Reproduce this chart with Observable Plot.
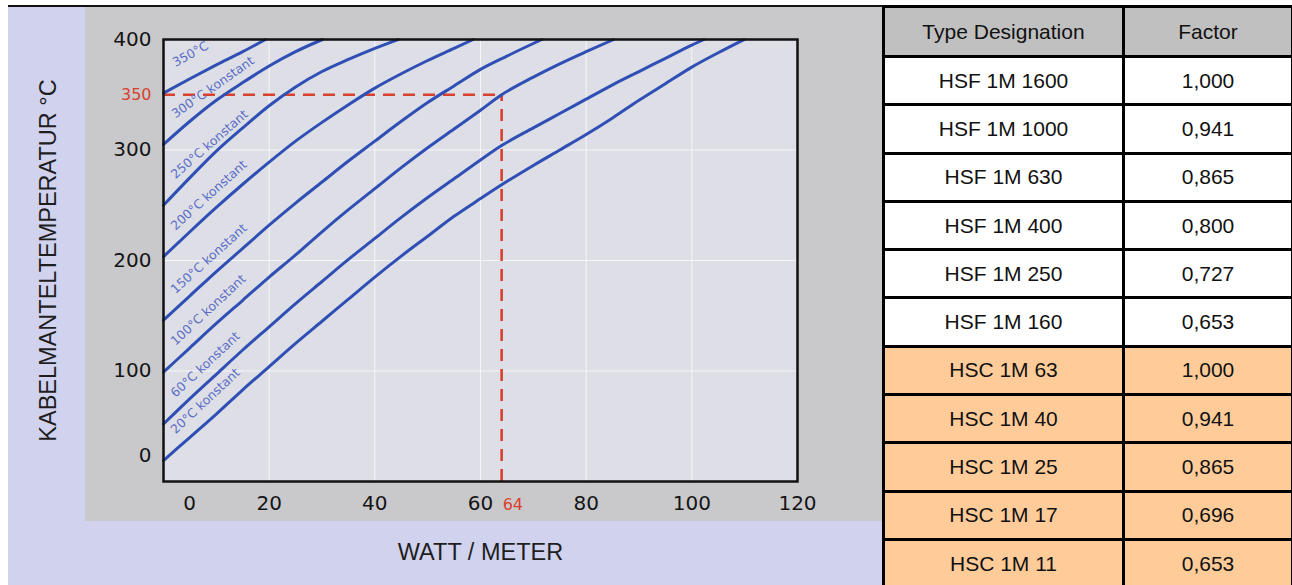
<!DOCTYPE html>
<html>
<head>
<meta charset="utf-8">
<script src="https://cdn.jsdelivr.net/npm/d3@7"></script>
<script src="https://cdn.jsdelivr.net/npm/@observablehq/plot@0.6"></script>
<style>
  html, body { margin: 0; padding: 0; background: #ffffff; }
  #page { position: relative; width: 1292px; height: 585px; overflow: hidden; background: #ffffff; }
  #lav { position: absolute; left: 8px; top: 6px; width: 874px; height: 579px; background: #d1d2ee; }
  #gray { position: absolute; left: 85px; top: 6px; width: 797px; height: 515px; background: #c9c9cc; }
  #topline { position: absolute; left: 8px; top: 5px; width: 876px; height: 2px; background: #111; }
  #chart { position: absolute; left: 0; top: 0; }
  #tablewrap { position: absolute; left: 882px; top: 5px; }
  table { border-collapse: collapse; table-layout: fixed; width: 409px;
          font-family: "Liberation Sans", Arial, sans-serif; font-size: 21px; color: #111; }
  td, th { border: 3px solid #000; text-align: center; vertical-align: middle; padding: 0; font-weight: normal; }
  th { background: #c0c0c0; height: 47px; }
  td { height: 45.3px; }
  tr.HSF td { background: #ffffff; }
  tr.HSC td { background: #ffcc99; }
</style>
</head>
<body>
<div id="page">
  <div id="lav"></div>
  <div id="gray"></div>
  <div id="topline"></div>
  <div id="chart"></div>
  <div id="tablewrap"></div>
</div>
<script>
// ---------- chart data ----------
const curveLabels = ["350°C", "300°C konstant", "250°C konstant", "200°C konstant",
                     "150°C konstant", "100°C konstant", "60°C konstant", "20°C konstant"];

const watt350 = [0, 5, 10, 15, 19.3];
const temp350 = [351.5, 364.5, 377, 389, 400];

const watt300 = [0, 5, 10, 15, 20, 25, 30.1];
const temp300 = [305, 326, 345, 361, 376, 389, 400];

const watt250 = [0, 5, 10, 15, 20, 25, 30, 35, 40, 44.4];
const temp250 = [250, 275, 299, 320, 340, 357, 371, 382, 392, 400];

const watt200 = [0, 5, 10, 15, 20, 25, 30, 35, 40, 45, 50, 55, 58.6];
const temp200 = [203.5, 226, 248, 269, 289, 308, 325, 341, 356, 369, 381, 392, 400];

const watt150 = [0, 5, 10, 15, 20, 25, 30, 35, 40, 45, 50, 55, 60, 65, 71.6];
const temp150 = [146, 168, 190, 211, 232, 252, 271, 290, 308, 326, 343, 358, 373, 385, 400];

const watt100 = [0, 5, 10, 15, 20, 25, 30, 35, 40, 45, 50, 55, 60, 64, 70, 75, 80, 85.2];
const temp100 = [99, 121, 143, 164, 185, 205, 226, 246, 265, 284, 302, 319, 336, 350, 366, 378, 389, 400];

const watt60 = [0, 5, 10, 15, 20, 25, 30, 35, 40, 45, 50, 55, 60, 64, 70, 75, 80, 85, 90, 95, 100, 102.3];
const temp60 = [52, 75, 97, 119, 140, 161, 181, 201, 220, 239, 257, 274, 291, 304, 320, 333, 346, 359, 371, 383, 395, 400];

const watt20 = [0, 5, 10, 15, 20, 25, 30, 35, 40, 45, 50, 55, 60, 64, 70, 75, 80, 85, 90, 95, 100, 105, 109.9];
const temp20 = [19, 40, 61, 83, 104, 125, 145, 165, 185, 204, 222, 240, 256, 268.5, 286, 300, 314, 329, 345, 360, 375, 388, 400];

const markerWatt = 64;
const markerTemp = 350;

const xTicks = [20, 40, 60, 80, 100, 120];
const yTicks = [100, 200, 300, 400];

// ---------- table data ----------
const tableHeader = ["Type Designation", "Factor"];
const tableTypes = ["HSF 1M 1600", "HSF 1M 1000", "HSF 1M 630", "HSF 1M 400", "HSF 1M 250", "HSF 1M 160",
                    "HSC 1M 63", "HSC 1M 40", "HSC 1M 25", "HSC 1M 17", "HSC 1M 11"];
const tableFactors = ["1,000", "0,941", "0,865", "0,800", "0,727", "0,653",
                      "1,000", "0,941", "0,865", "0,696", "0,653"];
const tableGroups = ["HSF", "HSF", "HSF", "HSF", "HSF", "HSF", "HSC", "HSC", "HSC", "HSC", "HSC"];

// ---------- build rows ----------
const wattSets = [watt350, watt300, watt250, watt200, watt150, watt100, watt60, watt20];
const tempSets = [temp350, temp300, temp250, temp200, temp150, temp100, temp60, temp20];
const rows = [];
curveLabels.forEach((label, i) => {
  wattSets[i].forEach((w, j) => rows.push({label, w, t: tempSets[i][j]}));
});
const labelRows = curveLabels.map((label, i) => ({label, w: wattSets[i][0], t: tempSets[i][0], i}));
const labelAngles = [-29, -35, -41, -42, -42, -43, -43, -43];

const blue = "#2f4fb5";
const red = "#d8412d";
const tickFont = "DejaVu Sans, sans-serif";
const titleFont = "Liberation Sans, Arial, sans-serif";

const chart = Plot.plot({
  width: 882,
  height: 585,
  marginLeft: 163,
  marginRight: 85,
  marginTop: 39,
  marginBottom: 104,
  style: {background: "transparent", overflow: "visible"},
  x: {domain: [0, 120]},
  y: {domain: [0, 400]},
  marks: [
    Plot.frame({fill: "#dedfe6"}),
    Plot.gridX([20, 40, 60, 80, 100], {stroke: "#ffffff", strokeOpacity: 0.7, strokeWidth: 1}),
    Plot.gridY([100, 200, 300], {stroke: "#ffffff", strokeOpacity: 0.7, strokeWidth: 1}),
    Plot.ruleY([{w: markerWatt, t: markerTemp}], {y: "t", x1: 0, x2: "w", stroke: red, strokeWidth: 2.6, strokeDasharray: "12 8"}),
    Plot.ruleX([{w: markerWatt, t: markerTemp}], {x: "w", y1: 0, y2: "t", stroke: red, strokeWidth: 2.6, strokeDasharray: "12 8"}),
    Plot.line(rows, {x: "w", y: "t", z: "label", stroke: blue, strokeWidth: 3, curve: "monotone-x"}),
    Plot.text(labelRows, {
      x: "w", y: "t", text: "label", rotate: d => labelAngles[d.i],
      textAnchor: "start", lineAnchor: "bottom", dx: 12, dy: -26,
      fill: "#5a6ec6", fontSize: 12.5, fontFamily: tickFont
    }),
    Plot.frame({stroke: "#111111", strokeWidth: 2.5}),
    Plot.axisY(yTicks, {tickSize: 0, tickPadding: 12, fontSize: 20, fontFamily: tickFont, fill: "#151515", label: null}),
    Plot.axisY([0], {tickSize: 0, tickPadding: 12, fontSize: 20, fontFamily: tickFont, fill: "#151515", dy: -26, label: null}),
    Plot.axisY([markerTemp], {tickSize: 0, tickPadding: 12, fontSize: 16, fontFamily: tickFont, fill: red, label: null}),
    Plot.axisX(xTicks, {tickSize: 0, tickPadding: 14, fontSize: 20, fontFamily: tickFont, fill: "#151515", label: null}),
    Plot.axisX([0], {tickSize: 0, tickPadding: 14, fontSize: 20, fontFamily: tickFont, fill: "#151515", dx: 26, label: null}),
    Plot.axisX([markerWatt], {tickSize: 0, tickPadding: 17, fontSize: 16, fontFamily: tickFont, fill: red, textAnchor: "start", dx: 1, label: null}),
    Plot.text(["KABELMANTELTEMPERATUR °C"], {frameAnchor: "left", textAnchor: "middle", rotate: -90, dx: -115, fontSize: 23.5, fontFamily: titleFont, fill: "#1e1e1e"}),
    Plot.text(["WATT / METER"], {frameAnchor: "bottom", textAnchor: "middle", dy: 78, fontSize: 23.5, fontFamily: titleFont, fill: "#1e1e1e"})
  ]
});
document.getElementById("chart").appendChild(chart);

// ---------- table ----------
const table = d3.select("#tablewrap").append("table");
const cg = table.append("colgroup");
cg.append("col").style("width", "240px");
cg.append("col").style("width", "169px");
table.append("tr").selectAll("th").data(tableHeader).join("th").text(d => d);
tableTypes.forEach((type, i) => {
  const tr = table.append("tr").attr("class", tableGroups[i]);
  tr.append("td").text(type);
  tr.append("td").text(tableFactors[i]);
});
</script>
</body>
</html>
